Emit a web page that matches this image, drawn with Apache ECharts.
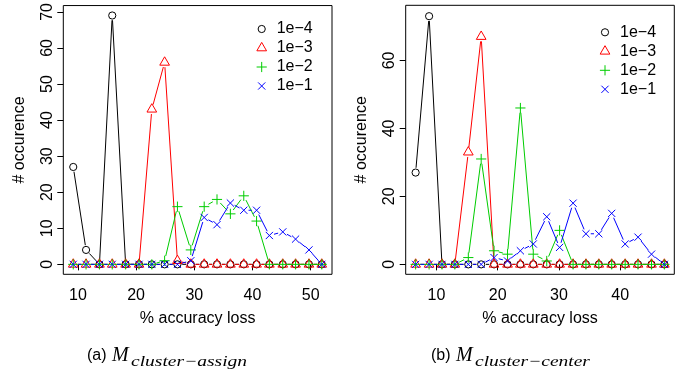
<!DOCTYPE html>
<html>
<head>
<meta charset="utf-8">
<title>Accuracy loss histograms</title>
<script src="https://cdn.jsdelivr.net/npm/echarts@6/dist/echarts.min.js"></script>
<style>
  html, body { margin: 0; padding: 0; background: #ffffff; }
  #chart { width: 687px; height: 375px; }
</style>
</head>
<body>
<div id="chart"></div>
<script>
// Bin centres (% accuracy loss) for each panel
const lossAssign = [9.2, 11.4, 13.7, 15.9, 18.2, 20.5, 22.7, 24.9, 27.1, 29.4,
                    31.7, 33.9, 36.2, 38.5, 40.7, 42.9, 45.2, 47.4, 49.7, 51.9];
const lossCenter = [6.6, 8.8, 10.9, 13.0, 15.2, 17.3, 19.4, 21.6, 23.7, 25.8,
                    28.0, 30.1, 32.3, 34.4, 36.5, 38.6, 40.8, 42.9, 45.1, 47.2];

// Occurrence counts, panel (a) M_cluster-assign
const assign1e4 = [27, 4, 0, 69, 0, 0, 0, 0, 0, 0, 0, 0, 0, 0, 0, 0, 0, 0, 0, 0];
const assign1e3 = [0, 0, 0, 0, 0, 0, 43, 56, 1, 0, 0, 0, 0, 0, 0, 0, 0, 0, 0, 0];
const assign1e2 = [0, 0, 0, 0, 0, 0, 0, 1, 16, 4, 16, 18, 14, 19, 12, 0, 0, 0, 0, 0];
const assign1e1 = [0, 0, 0, 0, 0, 0, 0, 0, 0, 1, 13, 11, 17, 15, 15, 8, 9, 7, 4, 0];

// Occurrence counts, panel (b) M_cluster-center
const center1e4 = [27, 73, 0, 0, 0, 0, 0, 0, 0, 0, 0, 0, 0, 0, 0, 0, 0, 0, 0, 0];
const center1e3 = [0, 0, 0, 0, 33, 67, 0, 0, 0, 0, 0, 0, 0, 0, 0, 0, 0, 0, 0, 0];
const center1e2 = [0, 0, 0, 0, 2, 31, 4, 3, 46, 3, 1, 10, 0, 0, 0, 0, 0, 0, 0, 0];
const center1e1 = [0, 0, 0, 0, 0, 0, 2, 1, 4, 6, 14, 5, 18, 9, 9, 15, 6, 8, 3, 0];

// Tick labels
const ticksAssignX = [10, 20, 30, 40, 50];
const ticksAssignY = [0, 10, 20, 30, 40, 50, 60, 70];
const ticksCenterX = [10, 20, 30, 40];
const ticksCenterY = [0, 20, 40, 60];

// Legend entries (learning rates)
const rates = ['1e\u22124', '1e\u22123', '1e\u22122', '1e\u22121'];
const colors = ['#000000', '#ff0000', '#00cd00', '#0000ff'];
const shapes = ['circle', 'triangle', 'plus', 'cross'];

const SANS = '"Liberation Sans", Arial, Helvetica, sans-serif';
const SERIF = '"Liberation Serif", "Times New Roman", serif';
const FS = 16;     // text size for ticks, axis titles and legend
const PCH = 3.6;   // base marker radius in px
const GAP = 4.8;   // gap left between a connecting segment and its marker

// Build a plotting-symbol element centred at (cx, cy)
function marker(kind, cx, cy, color) {
  const st = { stroke: color, lineWidth: 1, fill: null };
  if (kind === 'circle') {
    return { type: 'circle', shape: { cx: cx, cy: cy, r: PCH }, style: st };
  }
  if (kind === 'triangle') {
    const r = 1.555 * PCH, hx = r * Math.sqrt(3) / 2, hy = r / 2;
    return { type: 'polygon',
             shape: { points: [[cx, cy - r], [cx + hx, cy + hy], [cx - hx, cy + hy]] },
             style: st };
  }
  if (kind === 'plus') {
    const h = Math.SQRT2 * PCH;
    return { type: 'group', children: [
      { type: 'line', shape: { x1: cx - h, y1: cy, x2: cx + h, y2: cy }, style: st },
      { type: 'line', shape: { x1: cx, y1: cy - h, x2: cx, y2: cy + h }, style: st }
    ] };
  }
  const h = PCH;
  return { type: 'group', children: [
    { type: 'line', shape: { x1: cx - h, y1: cy - h, x2: cx + h, y2: cy + h }, style: st },
    { type: 'line', shape: { x1: cx - h, y1: cy + h, x2: cx + h, y2: cy - h }, style: st }
  ] };
}

// "both" style series: markers joined by segments that stop short of each marker
function seriesFor(panel, k, xs, ys) {
  const color = colors[k], kind = shapes[k];
  return {
    type: 'custom',
    name: rates[k],
    xAxisIndex: panel,
    yAxisIndex: panel,
    z: 2 + k,
    data: xs.map((x, i) => [x, ys[i]]),
    encode: { x: 0, y: 1 },
    renderItem: function (params, api) {
      const i = params.dataIndex;
      const p = api.coord([api.value(0), api.value(1)]);
      const children = [];
      if (i > 0) {
        const q = api.coord([xs[i - 1], ys[i - 1]]);
        const dx = p[0] - q[0], dy = p[1] - q[1];
        const d = Math.sqrt(dx * dx + dy * dy);
        if (d > 2 * GAP) {
          const f = GAP / d;
          children.push({ type: 'line',
            shape: { x1: q[0] + dx * f, y1: q[1] + dy * f, x2: p[0] - dx * f, y2: p[1] - dy * f },
            style: { stroke: color, lineWidth: 1 } });
        }
      }
      children.push(marker(kind, p[0], p[1], color));
      return { type: 'group', children: children };
    }
  };
}

function xAxisFor(panel, min, max, ticks) {
  return {
    type: 'value', gridIndex: panel, min: min, max: max,
    name: '% accuracy loss', nameLocation: 'middle', nameGap: 36,
    nameTextStyle: { fontFamily: SANS, fontSize: FS, color: '#000' },
    axisLine: { show: false },
    axisTick: { show: true, length: 6, customValues: ticks, lineStyle: { color: '#000', width: 1 } },
    axisLabel: { customValues: ticks, margin: 13, fontFamily: SANS, fontSize: FS, color: '#000' },
    splitLine: { show: false }
  };
}

function yAxisFor(panel, min, max, ticks) {
  return {
    type: 'value', gridIndex: panel, min: min, max: max,
    name: '# occurence', nameLocation: 'middle', nameGap: 36, nameRotate: 90,
    nameTextStyle: { fontFamily: SANS, fontSize: FS, color: '#000' },
    axisLine: { show: false },
    axisTick: { show: true, length: 6, customValues: ticks, lineStyle: { color: '#000', width: 1 } },
    axisLabel: { customValues: ticks, rotate: 90, margin: 8, fontFamily: SANS, fontSize: FS, color: '#000' },
    splitLine: { show: false }
  };
}

// Legend block in the upper right of a panel
function legendBlock(symX, textX, topY) {
  const items = [];
  rates.forEach((label, k) => {
    const y = topY + 19 * k;
    items.push(marker(shapes[k], symX, y, colors[k]));
    items.push({ type: 'text', x: textX, y: y,
      style: { text: label, fontFamily: SANS, fontSize: FS, fill: '#000',
               align: 'left', verticalAlign: 'middle' } });
  });
  return items;
}

// Sub-figure caption: "(x) M" with an italic subscript
function caption(x0, tag, sub) {
  return [
    { type: 'text', x: x0, y: 356,
      style: { text: tag, fontFamily: SANS, fontSize: 16, fill: '#000', verticalAlign: 'middle' } },
    { type: 'text', x: x0 + 25, y: 356,
      style: { text: 'M', fontFamily: SERIF, fontStyle: 'italic', fontSize: 20, fill: '#000', verticalAlign: 'middle' } },
    { type: 'text', x: x0 + 44, y: 361.6, scaleX: 1.3,
      style: { text: sub, fontFamily: SERIF, fontStyle: 'italic', fontSize: 15, fill: '#000', verticalAlign: 'middle' } }
  ];
}

const chart = echarts.init(document.getElementById('chart'), null, { renderer: 'canvas' });

const gridStyle = { show: true, borderColor: '#000', borderWidth: 1, backgroundColor: 'transparent' };

chart.setOption({
  animation: false,
  backgroundColor: '#ffffff',
  grid: [
    Object.assign({ left: 63.3, top: 5.3, width: 268.7, height: 269 }, gridStyle),
    Object.assign({ left: 405.7, top: 5.3, width: 268.6, height: 269 }, gridStyle)
  ],
  xAxis: [
    xAxisFor(0, 7.49, 53.66, ticksAssignX),
    xAxisFor(1, 4.98, 48.82, ticksCenterX)
  ],
  yAxis: [
    yAxisFor(0, -2.76, 71.76, ticksAssignY),
    yAxisFor(1, -2.92, 76.2, ticksCenterY)
  ],
  series: [
    seriesFor(0, 0, lossAssign, assign1e4),
    seriesFor(0, 1, lossAssign, assign1e3),
    seriesFor(0, 2, lossAssign, assign1e2),
    seriesFor(0, 3, lossAssign, assign1e1),
    seriesFor(1, 0, lossCenter, center1e4),
    seriesFor(1, 1, lossCenter, center1e3),
    seriesFor(1, 2, lossCenter, center1e2),
    seriesFor(1, 3, lossCenter, center1e1)
  ],
  graphic: [].concat(
    legendBlock(261.7, 276.7, 29),
    legendBlock(605, 620, 32.3),
    caption(87, '(a)', 'cluster\u2212assign'),
    caption(431, '(b)', 'cluster\u2212center')
  )
});
</script>
</body>
</html>
